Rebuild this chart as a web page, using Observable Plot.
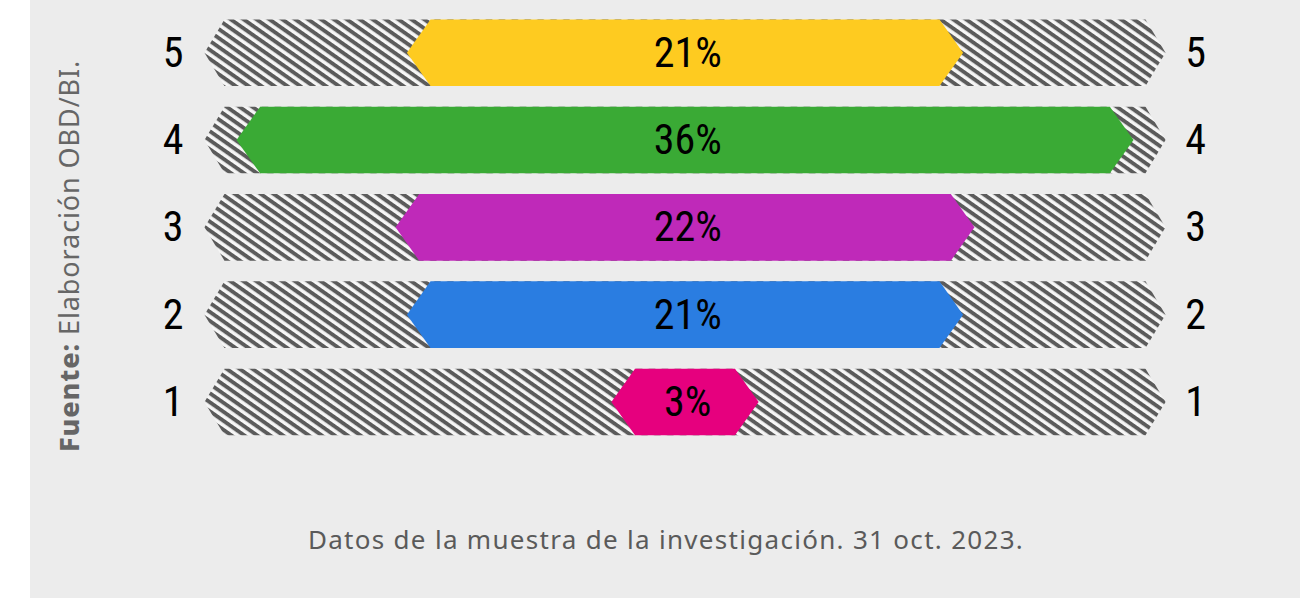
<!DOCTYPE html>
<html>
<head>
<meta charset="utf-8">
<script src="https://cdn.jsdelivr.net/npm/d3@7"></script>
<script src="https://cdn.jsdelivr.net/npm/@observablehq/plot@0.6"></script>
<style>
  html, body { margin: 0; padding: 0; background: #ffffff; }
  body { width: 1306px; height: 598px; overflow: hidden; position: relative; font-family: "Noto Sans", sans-serif; }
  #panel { position: absolute; left: 30px; top: 0; width: 1270px; height: 598px; background: #ececec; }
  #chart { position: absolute; left: 0; top: 0; }
  #caption { position: absolute; left: 0; top: 523px; width: 1332px; text-align: center; font-size: 26px; line-height: 32px; color: #5a5a5a; font-family: "Noto Sans", sans-serif; letter-spacing: 1.3px; }
  #source { position: absolute; left: 53px; top: 452px; transform-origin: 0 0; transform: rotate(-90deg); white-space: nowrap; font-size: 27px; line-height: 32px; color: #666666; font-family: "Noto Sans", sans-serif; letter-spacing: 0.9px; }
  #source b { font-weight: 800; }
</style>
</head>
<body>
<div id="panel"></div>
<div id="chart"></div>
<div id="caption">Datos de la muestra de la investigación. 31 oct. 2023.</div>
<div id="source"><b>Fuente:</b> Elaboración OBD/BI.</div>
<script>
// ---- data ----
const rows = [5, 4, 3, 2, 1];
const values = [21, 36, 22, 21, 3];
const colors = ["#fecb20", "#3aaa35", "#bf29b9", "#2a7de1", "#e6007e"];
const pctLabels = ["21%", "36%", "22%", "21%", "3%"];
const tickLabels = ["5", "4", "3", "2", "1"];

// ---- layout constants (styles, not data) ----
const HALF_H = 0.3815;     // half bar height in row units
const PAD = 1.74;          // extra half width of colored bars (value units)
const TIP = 1.04;          // depth of the chevron tip (value units)
const TRACK_TIP = 21.15;   // half width of the hatched track to its tips
const TRACK_DEPTH = 0.88;  // track chevron depth
const LABEL_X = 22.55;

function hex(row, halfTip, depth, extra) {
  const halfFlat = halfTip - depth;
  return [
    {row, y: row + HALF_H, x1: -halfFlat, x2: halfFlat, ...extra},
    {row, y: row, x1: -halfTip, x2: halfTip, ...extra},
    {row, y: row - HALF_H, x1: -halfFlat, x2: halfFlat, ...extra}
  ];
}

const trackPts = rows.flatMap(r => hex(r, TRACK_TIP, TRACK_DEPTH, {}));
const barPts = rows.flatMap((r, i) => hex(r, values[i] / 2 + PAD, TIP, {color: colors[i]}));
const labelData = rows.map((r, i) => ({row: r, text: pctLabels[i], tick: tickLabels[i]}));

const narrow = "'Liberation Sans Narrow', 'Roboto Condensed', 'DejaVu Sans Condensed', sans-serif";

const chart = Plot.plot({
  width: 1306,
  height: 598,
  margin: 0,
  style: {background: "transparent", overflow: "visible"},
  x: {domain: [-25, 25], range: [685 - 25 * 22.72, 685 + 25 * 22.72], axis: null},
  y: {domain: [1, 5], range: [402, 52.7], axis: null},
  color: {type: "identity"},
  marks: [
    Plot.areaX(trackPts, {y: "y", x1: "x1", x2: "x2", z: "row", fill: "url(#hatch)", curve: "linear"}),
    Plot.areaX(barPts, {y: "y", x1: "x1", x2: "x2", z: "row", fill: "color", curve: "linear"}),
    Plot.text(labelData, {x: 0.1, y: "row", text: "text", fontSize: 42, fill: "#000", fontFamily: narrow}),
    Plot.text(labelData, {x: -LABEL_X, y: "row", text: "tick", fontSize: 42, fill: "#000", fontFamily: narrow}),
    Plot.text(labelData, {x: LABEL_X - 0.1, y: "row", text: "tick", fontSize: 42, fill: "#000", fontFamily: narrow})
  ]
});

const defs = d3.select(chart).insert("defs", ":first-child");
const pat = defs.append("pattern")
  .attr("id", "hatch")
  .attr("patternUnits", "userSpaceOnUse")
  .attr("width", 14)
  .attr("height", 7.4)
  .attr("patternTransform", "rotate(35)");
pat.append("rect").attr("width", 14).attr("height", 7.4).attr("fill", "#f6f6f6");
pat.append("rect").attr("width", 14).attr("height", 3.9).attr("fill", "#5b5b5b");

document.getElementById("chart").appendChild(chart);
</script>
</body>
</html>
